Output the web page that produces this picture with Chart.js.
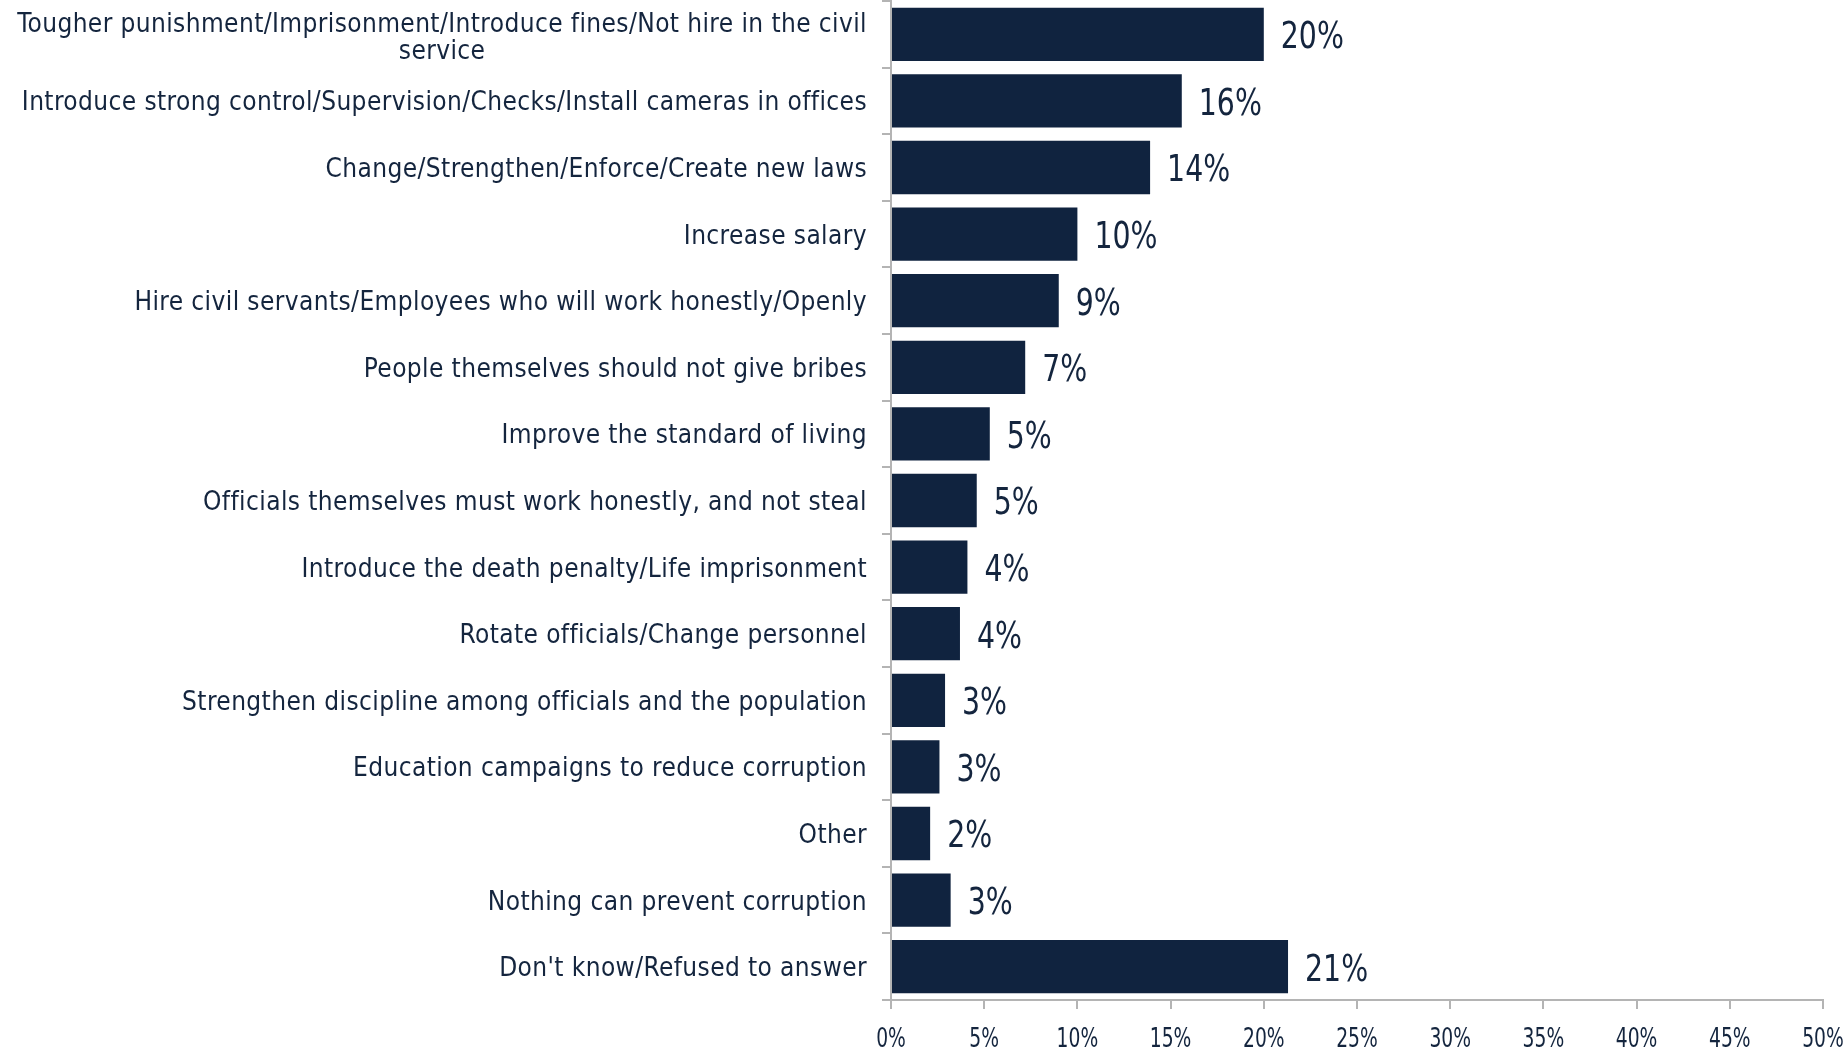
<!DOCTYPE html>
<html>
<head>
<meta charset="utf-8">
<script src="https://cdn.jsdelivr.net/npm/chart.js@4/dist/chart.umd.min.js"></script>
<style>
  html, body { margin: 0; padding: 0; background: #ffffff; }
  #wrap { width: 1847px; height: 1051px; }
</style>
</head>
<body>
<div id="wrap"><canvas id="newChart" width="1847" height="1051"></canvas></div>
<script>
var categories = [
  ['Tougher punishment/Imprisonment/Introduce fines/Not hire in the civil', 'service'],
  'Introduce strong control/Supervision/Checks/Install cameras in offices',
  'Change/Strengthen/Enforce/Create new laws',
  'Increase salary',
  'Hire civil servants/Employees who will work honestly/Openly',
  'People themselves should not give bribes',
  'Improve the standard of living',
  'Officials themselves must work honestly, and not steal',
  'Introduce the death penalty/Life imprisonment',
  'Rotate officials/Change personnel',
  'Strengthen discipline among officials and the population',
  'Education campaigns to reduce corruption',
  'Other',
  'Nothing can prevent corruption',
  "Don't know/Refused to answer"
];
var shares = [20.0, 15.6, 13.9, 10.0, 9.0, 7.2, 5.3, 4.6, 4.1, 3.7, 2.9, 2.6, 2.1, 3.2, 21.3];
var shareLabels = ['20%', '16%', '14%', '10%', '9%', '7%', '5%', '5%', '4%', '4%', '3%', '3%', '2%', '3%', '21%'];
var xTicks = [0, 5, 10, 15, 20, 25, 30, 35, 40, 45, 50];

var navy = '#10233f';
var textColor = '#14253e';
var axisGray = '#b4b4b4';
var fontName = '"DejaVu Sans Condensed", "DejaVu Sans", sans-serif';
// the digits in the original are narrower than DejaVu, so squeeze them a bit
var squeeze = 0.83;

// draws the category names, the x tick labels and the % text past each bar
var textLayer = {
  id: 'textLayer',
  afterDraw: function(chart) {
    var ctx = chart.ctx;
    var xs = chart.scales.x;
    var ys = chart.scales.y;
    var meta = chart.getDatasetMeta(0);
    ctx.save();
    ctx.fillStyle = textColor;

    //Category names, right edge just left of the tick marks
    ctx.font = '26px ' + fontName;
    ctx.letterSpacing = '0.4px';
    var rightEdge = ys.right - 24;
    var cap = 26 * 0.73;
    for (let i = 0; i < categories.length; i++) {
      var yc = ys.getPixelForTick(i);
      var lab = categories[i];
      if (Array.isArray(lab)) {
        // two line label: lines centred under each other
        var widest = 0;
        for (let k = 0; k < lab.length; k++) {
          widest = Math.max(widest, ctx.measureText(lab[k]).width);
        }
        var lineGap = 27;
        var firstBase = yc - (lab.length - 1) * lineGap / 2 + cap / 2 + 2;
        ctx.textAlign = 'center';
        for (let k = 0; k < lab.length; k++) {
          ctx.fillText(lab[k], rightEdge - widest / 2, firstBase + k * lineGap);
        }
      } else {
        ctx.textAlign = 'right';
        ctx.fillText(lab, rightEdge, yc + cap / 2);
      }
    }
    ctx.letterSpacing = '0px';

    //x axis tick labels
    ctx.textAlign = 'center';
    ctx.font = '26px ' + fontName;
    for (let i = 0; i < xTicks.length; i++) {
      var px = xs.getPixelForValue(xTicks[i]);
      ctx.save();
      ctx.scale(0.8, 1);
      ctx.fillText(xTicks[i] + '%', px / 0.8, 1047);
      ctx.restore();
    }

    //value labels
    ctx.textAlign = 'left';
    ctx.font = '38px ' + fontName;
    for (let i = 0; i < meta.data.length; i++) {
      var bar = meta.data[i];
      ctx.save();
      ctx.scale(squeeze, 1);
      ctx.fillText(shareLabels[i], (bar.x + 17) / squeeze, bar.y + 38 * 0.73 / 2);
      ctx.restore();
    }
    ctx.restore();
  }
};

window.onload = function() {
  var ctx = document.getElementById('newChart');
  var myChart = new Chart(ctx, {
    type: 'bar',
    plugins: [textLayer],
    data: {
      labels: categories,
      datasets: [{
        data: shares,
        backgroundColor: navy,
        barPercentage: 0.8,
        categoryPercentage: 1.0
      }]
    },
    options: {
      indexAxis: 'y',
      responsive: false,
      animation: false,
      layout: { autoPadding: false, padding: { top: 1, right: 24, left: 0, bottom: 0 } },
      plugins: {
        legend: { display: false },
        tooltip: { enabled: false }
      },
      scales: {
        x: {
          min: 0,
          max: 50,
          afterBuildTicks: function(scale) {
            scale.ticks = xTicks.map(function(v) { return { value: v }; });
          },
          afterFit: function(scale) { scale.height = 51; },
          grid: {
            drawOnChartArea: false,
            color: axisGray,
            lineWidth: 2,
            tickLength: 9
          },
          border: { color: axisGray, width: 2 },
          ticks: { display: false }
        },
        y: {
          afterFit: function(scale) { scale.width = 891; },
          grid: {
            drawOnChartArea: false,
            offset: true,
            color: axisGray,
            lineWidth: 2,
            tickLength: 9
          },
          border: { color: axisGray, width: 2 },
          ticks: { display: false, autoSkip: false }
        }
      }
    }
  });
};
</script>
</body>
</html>
